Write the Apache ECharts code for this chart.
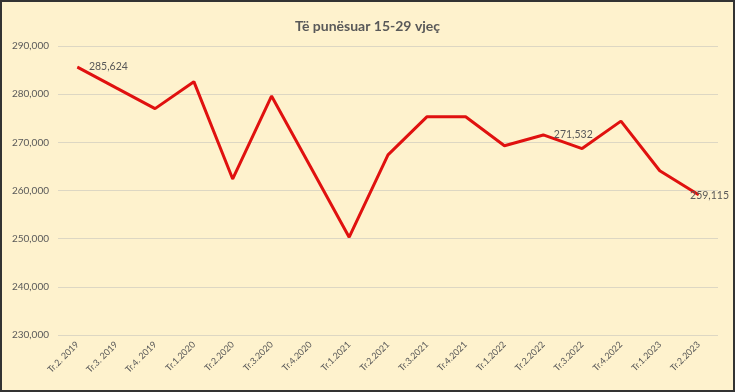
<!DOCTYPE html>
<html>
<head>
<meta charset="utf-8">
<script src="https://cdn.jsdelivr.net/npm/echarts@6/dist/echarts.min.js"></script>
<style>
html,body{margin:0;padding:0;background:#fff;}
#c{width:731px;height:388px;border:2px solid #333;background:#FEF2CD;}
</style>
</head>
<body>
<div id="c"></div>
<script>
var title = 'Të punësuar 15-29 vjeç';
var categories = ['Tr.2. 2019','Tr.3. 2019','Tr.4. 2019','Tr.1.2020','Tr.2.2020','Tr.3.2020','Tr.4.2020','Tr.1.2021','Tr.2.2021','Tr.3.2021','Tr.4.2021','Tr.1.2022','Tr.2.2022','Tr.3.2022','Tr.4.2022','Tr.1.2023','Tr.2.2023'];
var values = [285624, 281300, 277000, 282600, 262400, 279600, 265000, 250300, 267400, 275300, 275300, 269300, 271532, 268700, 274400, 264100, 259115];
var labeledIndex = [0, 12, 16];
var labelOffsets = [[6, 0], [5, 0], [-14, 1]];

var fmt = function (v) { return v.toString().replace(/\B(?=(\d{3})+(?!\d))/g, ','); };
var seriesData = values.map(function (v, i) {
  var k = labeledIndex.indexOf(i);
  if (k < 0) return { value: v, label: { show: false } };
  return {
    value: v,
    label: { show: true, position: 'right', offset: labelOffsets[k] }
  };
});

var chart = echarts.init(document.getElementById('c'), null, {renderer: 'canvas'});
chart.setOption({
  backgroundColor: '#FEF2CD',
  animation: false,
  title: {
    text: title, left: 'center', top: 12,
    textStyle: { fontFamily: 'Lato', fontSize: 14, fontWeight: 'bold', color: '#595959' }
  },
  grid: { left: 56, right: 15, top: 44, bottom: 55 },
  xAxis: {
    type: 'category', data: categories, boundaryGap: true,
    axisLine: { show: false }, axisTick: { show: false },
    axisLabel: { rotate: 45, fontFamily: 'Lato', fontSize: 9, color: '#595959', margin: 8, interval: 0 }
  },
  yAxis: {
    type: 'value', min: 230000, max: 290000, interval: 10000,
    axisLine: { show: false }, axisTick: { show: false },
    axisLabel: { fontFamily: 'Lato', fontSize: 10, color: '#595959', margin: 9, formatter: fmt },
    splitLine: { lineStyle: { color: '#DDD7C3', width: 1 } }
  },
  series: [{
    type: 'line', data: seriesData, symbol: 'circle', symbolSize: 1, showSymbol: true,
    lineStyle: { color: '#E0110F', width: 3 },
    itemStyle: { color: '#E0110F' },
    label: { show: true, fontFamily: 'Lato', fontSize: 10.5, color: '#595959',
      formatter: function (p) { return fmt(p.value); } }
  }]
});
</script>
</body>
</html>
